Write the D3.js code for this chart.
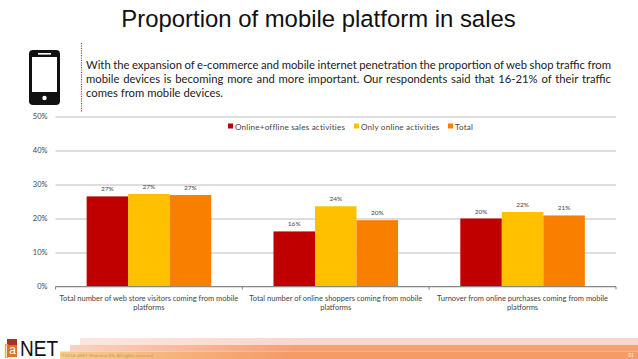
<!DOCTYPE html>
<html>
<head>
<meta charset="utf-8">
<script src="https://cdn.jsdelivr.net/npm/d3@7"></script>
<style>
  html, body { margin: 0; padding: 0; background: #fff; }
  svg { display: block; }
</style>
</head>
<body>
<svg id="chart" width="638" height="359"></svg>
<script>
const categories = [
  ["Total number of web store visitors coming from mobile", "platforms"],
  ["Total number of online shoppers coming from mobile", "platforms"],
  ["Turnover from online purchases coming from mobile", "platforms"]
];
const seriesNames = ["Online+offline sales activities", "Only online activities", "Total"];
const seriesColors = ["#c00000", "#ffc000", "#f97f00"];
const mixedValues = [26.5, 16.2, 20.0];
const onlineValues = [27.2, 23.6, 21.9];
const totalValues = [26.9, 19.5, 20.9];
const yTicks = [0, 10, 20, 30, 40, 50];
const bodyLines = [
  "With the expansion of e-commerce and mobile internet penetration the proportion of web shop traffic from",
  "mobile devices is becoming more and more important. Our respondents said that 16-21% of their traffic",
  "comes from mobile devices."
];

const seriesValues = [mixedValues, onlineValues, totalValues];
const svg = d3.select("#chart");
const font = "Lato, 'Open Sans', sans-serif";

// title
svg.append("text")
  .attr("x", 318.5).attr("y", 27)
  .attr("text-anchor", "middle")
  .attr("font-family", "'Liberation Sans', Arial, sans-serif")
  .attr("font-size", 23.9)
  .attr("fill", "#111")
  .text("Proportion of mobile platform in sales");

// phone icon
svg.append("rect").attr("x", 29).attr("y", 50).attr("width", 31).attr("height", 55).attr("rx", 4).attr("fill", "#111");
svg.append("rect").attr("x", 32).attr("y", 57).attr("width", 25).attr("height", 35).attr("fill", "#fff");
svg.append("rect").attr("x", 38).attr("y", 53).attr("width", 13).attr("height", 1.6).attr("fill", "#fff");
svg.append("circle").attr("cx", 44.5).attr("cy", 98).attr("r", 2.2).attr("fill", "#fff");

// dotted divider
svg.append("line")
  .attr("x1", 81.5).attr("x2", 81.5).attr("y1", 43).attr("y2", 112)
  .attr("stroke", "#c0392b").attr("stroke-width", 1.2).attr("stroke-dasharray", "1.2 1.2");

// body text, first two lines justified to the same right edge
const bodyText = svg.append("g").selectAll("text")
  .data(bodyLines)
  .join("text")
  .attr("x", 86)
  .attr("y", (d, i) => 69 + i * 14)
  .attr("font-family", font)
  .attr("font-size", 11.3)
  .attr("fill", "#222")
  .text(d => d);
bodyText.each(function (d, i) {
  if (i < 2) {
    const gaps = d.split(" ").length - 1;
    const extra = (525 - this.getComputedTextLength()) / gaps;
    d3.select(this).attr("word-spacing", extra);
  }
});

// scales
const x = d3.scaleBand().domain(d3.range(categories.length)).range([55.5, 616]).paddingInner(1 / 3).paddingOuter(1 / 6);
const xInner = d3.scaleBand().domain(d3.range(seriesNames.length)).range([0, x.bandwidth()]);
const y = d3.scaleLinear().domain([0, 50]).range([286.5, 116.5]);

// y axis with gridlines
const yAxis = svg.append("g")
  .attr("transform", "translate(55.5,0)")
  .call(d3.axisLeft(y).tickValues(yTicks).tickSize(-560.5).tickPadding(8).tickFormat(d => d + "%"));
yAxis.select(".domain").remove();
yAxis.selectAll("line").attr("stroke", "#bdbdbd");
yAxis.selectAll("text").attr("font-family", font).attr("font-size", 7.5).attr("fill", "#444");

// bars
const groups = svg.append("g").selectAll("g")
  .data(seriesValues)
  .join("g")
  .attr("fill", (d, i) => seriesColors[i]);
groups.each(function (values, s) {
  d3.select(this).selectAll("rect")
    .data(values)
    .join("rect")
    .attr("x", (d, i) => x(i) + xInner(s))
    .attr("y", d => y(d))
    .attr("width", xInner.bandwidth())
    .attr("height", d => y(0) - y(d));
  d3.select(this).selectAll("text")
    .data(values)
    .join("text")
    .attr("x", (d, i) => x(i) + xInner(s) + xInner.bandwidth() / 2)
    .attr("y", d => y(d) - 5)
    .attr("text-anchor", "middle")
    .attr("font-family", font)
    .attr("font-size", 6.5)
    .attr("fill", "#444")
    .text(d => Math.round(d) + "%");
});

// x axis with ticks on category boundaries
const xEdges = d3.scaleLinear().domain([0, categories.length]).range([55.5, 616]);
svg.append("line").attr("x1", xEdges(0)).attr("x2", xEdges(3)).attr("y1", y(0)).attr("y2", y(0)).attr("stroke", "#888");
svg.append("g").selectAll("line")
  .data(d3.range(categories.length + 1))
  .join("line")
  .attr("x1", d => xEdges(d)).attr("x2", d => xEdges(d))
  .attr("y1", y(0)).attr("y2", y(0) + 3)
  .attr("stroke", "#888");
const catLabels = svg.append("g").selectAll("text")
  .data(categories)
  .join("text")
  .attr("text-anchor", "middle")
  .attr("font-family", font)
  .attr("font-size", 7.5)
  .attr("fill", "#444");
catLabels.each(function (lines, i) {
  d3.select(this).selectAll("tspan")
    .data(lines)
    .join("tspan")
    .attr("x", x(i) + x.bandwidth() / 2)
    .attr("y", (d, j) => 300.5 + j * 9.5)
    .text(d => d);
});

// legend
const legendX = [228, 354, 448];
const legend = svg.append("g").selectAll("g")
  .data(seriesNames)
  .join("g")
  .attr("transform", (d, i) => `translate(${legendX[i]},127)`);
legend.append("rect").attr("y", -3.5).attr("width", 5).attr("height", 5).attr("fill", (d, i) => seriesColors[i]);
legend.append("text")
  .attr("x", 7).attr("y", 2.5)
  .attr("font-family", font)
  .attr("font-size", 8.1)
  .attr("letter-spacing", 0.2)
  .attr("fill", "#444")
  .text(d => d);

// footer bands
const defs = svg.append("defs");
const grad = (id, a, b) => {
  const g = defs.append("linearGradient").attr("id", id);
  g.append("stop").attr("offset", 0).attr("stop-color", a);
  g.append("stop").attr("offset", 0.4).attr("stop-color", b);
  g.append("stop").attr("offset", 1).attr("stop-color", b);
};
grad("b1", "#fde6de", "#f9d6cb");
grad("b2", "#f9d2c2", "#f3a077");
grad("b3", "#f8cb8e", "#f49b66");
svg.append("rect").attr("x", 80).attr("y", 338).attr("width", 558).attr("height", 7).attr("fill", "url(#b1)");
svg.append("rect").attr("x", 70).attr("y", 345).attr("width", 568).attr("height", 6.5).attr("fill", "url(#b2)");
svg.append("rect").attr("x", 60).attr("y", 351.5).attr("width", 578).attr("height", 7.5).attr("fill", "url(#b3)");
svg.append("text").attr("x", 61).attr("y", 357)
  .attr("font-family", font).attr("font-size", 4.6).attr("fill", "#c99a45")
  .text("©2014 aNET Hirdetési Kft. All rights reserved");
svg.append("text").attr("x", 631).attr("y", 357).attr("text-anchor", "middle")
  .attr("font-family", font).attr("font-size", 5).attr("fill", "#fff")
  .text("31");

// logo
svg.append("rect").attr("x", 7).attr("y", 339).attr("width", 10).attr("height", 18).attr("fill", "#d9762a");
svg.append("rect").attr("x", 7).attr("y", 339).attr("width", 10).attr("height", 6).attr("fill", "#a8322a");
svg.append("text").attr("x", 4).attr("y", 355)
  .attr("font-family", "'Liberation Sans', sans-serif").attr("font-size", 15).attr("fill", "#e8a33a").text("[");
svg.append("text").attr("x", 12.5).attr("y", 354).attr("text-anchor", "middle")
  .attr("font-family", "'Liberation Sans', sans-serif").attr("font-size", 12).attr("fill", "#fff").text("a");
svg.append("text").attr("x", 20).attr("y", 355.5)
  .attr("font-family", "'Liberation Sans', sans-serif").attr("font-size", 21.5).attr("textLength", 38).attr("lengthAdjust", "spacingAndGlyphs").attr("fill", "#111").text("NET");
</script>
</body>
</html>
